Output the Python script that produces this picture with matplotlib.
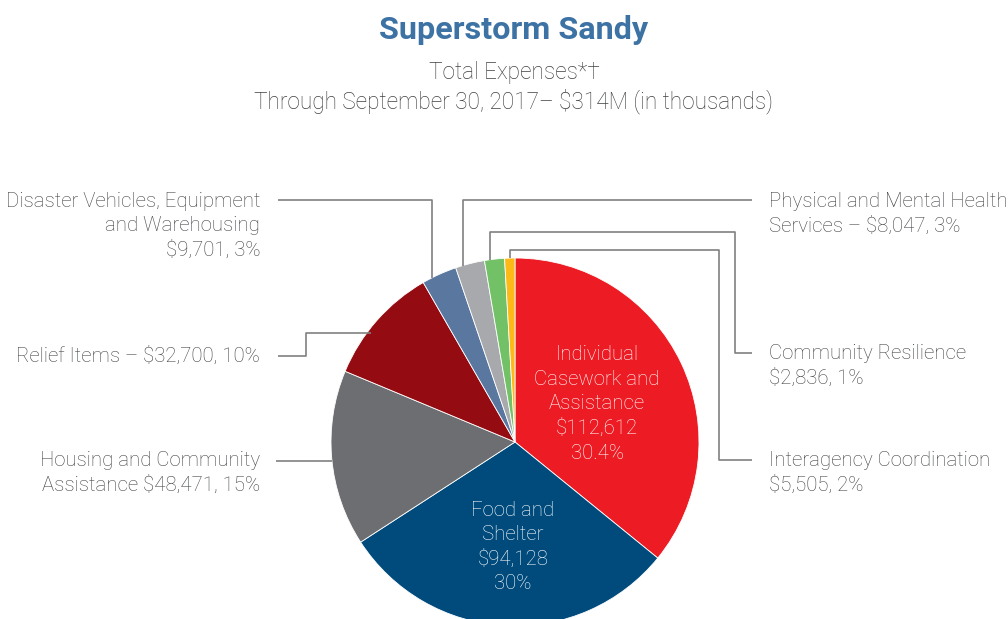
import matplotlib.pyplot as plt
import numpy as np

# expense categories, clockwise from 12 o'clock (values in thousands)
categories = ["Individual Casework and Assistance", "Food and Shelter",
              "Housing and Community Assistance", "Relief Items",
              "Disaster Vehicles, Equipment and Warehousing",
              "Physical and Mental Health Services",
              "Interagency Coordination", "Community Resilience"]
values = [112612, 94128, 48471, 32700, 9701, 8047, 5505, 2836]
colors = ["#ED1C24", "#004B7C", "#6D6E71", "#940C12",
          "#5A77A0", "#A7A9AC", "#72C167", "#FDB918"]

inside_labels = ["Individual\nCasework and\nAssistance\n$112,612\n30.4%",
                 "Food and\nShelter\n$94,128\n30%"]
left_labels = ["Disaster Vehicles, Equipment\nand Warehousing\n$9,701, 3%",
               "Relief Items – $32,700, 10%",
               "Housing and Community\nAssistance $48,471, 15%"]
right_labels = ["Physical and Mental Health\nServices – $8,047, 3%",
                "Community Resilience\n$2,836, 1%",
                "Interagency Coordination\n$5,505, 2%"]

FONT = "Roboto"
TXT = "#3F4042"
LINE = "#808080"

fig = plt.figure(figsize=(10.08, 6.19), dpi=100)
ax = fig.add_axes([0, 0, 1, 1])

cx, cy, r = 515, 442, 184
# y axis is inverted (pixel-like coords), so counterclock=True draws clockwise on screen
ax.pie(values, colors=colors, startangle=-90, counterclock=True,
       center=(cx, cy), radius=r,
       wedgeprops=dict(edgecolor="white", linewidth=0.6))
ax.set_xlim(0, 1008)
ax.set_ylim(619, 0)
ax.set_aspect("equal")
ax.axis("off")


def edge_y(x):
    # top edge of the pie at horizontal position x
    return cy - np.sqrt(r ** 2 - (x - cx) ** 2)


def edge_x_left(y):
    return cx - np.sqrt(r ** 2 - (y - cy) ** 2)


# title block
ax.text(514, 30, "Superstorm Sandy", ha="center", va="center",
        fontsize=23.3, fontweight="bold", color="#3D72A4", family=FONT)
ax.text(514, 72, "Total Expenses*†", ha="center", va="center",
        fontsize=16.3, color=TXT, family=FONT, fontweight="light")
ax.text(514, 101, "Through September 30, 2017– $314M (in thousands)",
        ha="center", va="center", fontsize=16.3, color=TXT, family=FONT, fontweight="light")

# labels inside the two big wedges
ax.text(597, 404, inside_labels[0], ha="center", va="center", color="white",
        fontsize=14.7, family=FONT, fontweight="light", linespacing=1.37)
ax.text(513, 547, inside_labels[1], ha="center", va="center", color="white",
        fontsize=14.7, family=FONT, fontweight="light", linespacing=1.37)

# outside labels
lab_kw = dict(fontsize=14.7, color=TXT, family=FONT, fontweight="light",
              linespacing=1.37, va="center")
ax.text(260, 226, left_labels[0], ha="right", **lab_kw)
ax.text(260, 356, left_labels[1], ha="right", **lab_kw)
ax.text(260, 472.5, left_labels[2], ha="right", **lab_kw)
ax.text(769, 213.5, right_labels[0], ha="left", **lab_kw)
ax.text(769, 365.5, right_labels[1], ha="left", **lab_kw)
ax.text(769, 472.5, right_labels[2], ha="left", **lab_kw)

# leader lines
lkw = dict(color=LINE, linewidth=1.2, solid_capstyle="butt")
ax.plot([278, 432, 432], [200, 200, edge_y(432)], **lkw)
ax.plot([278, 306, 306, edge_x_left(333) + 4], [356, 356, 333, 333], **lkw)
ax.plot([276, edge_x_left(461)], [461, 461], **lkw)
ax.plot([752, 463, 463], [200, 200, edge_y(463)], **lkw)
ax.plot([752, 735, 735, 490, 490], [353, 353, 232, 232, edge_y(490)], **lkw)
ax.plot([752, 719, 719, 510, 510], [460, 460, 250, 250, edge_y(510)], **lkw)

fig.savefig("out.png", dpi=100, facecolor="white")
